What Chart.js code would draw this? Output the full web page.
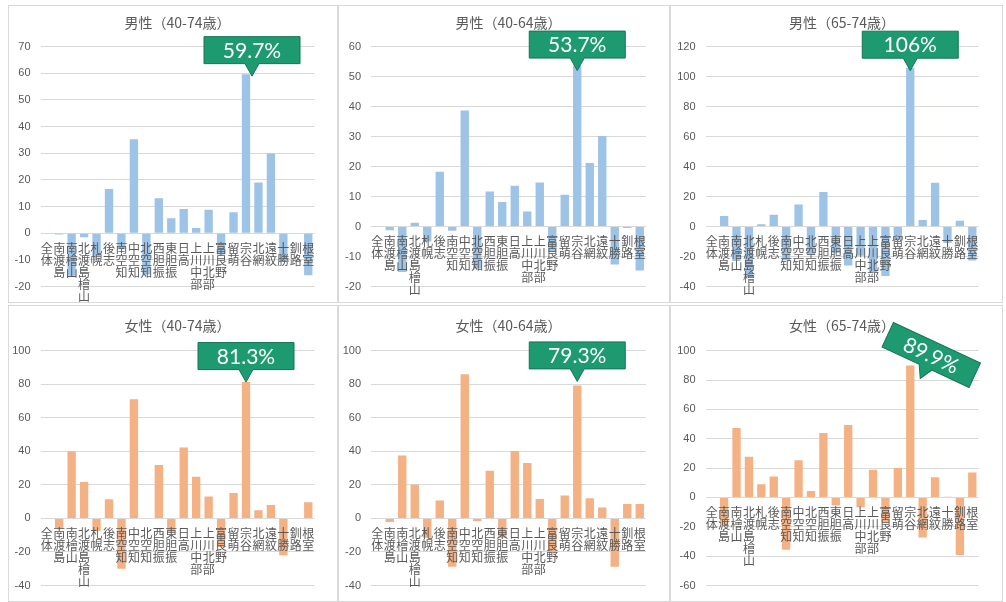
<!DOCTYPE html>
<html lang="ja">
<head>
<meta charset="utf-8">
<script src="https://cdn.jsdelivr.net/npm/chart.js@4.4.1/dist/chart.umd.min.js"></script>
<style>
  html, body { margin: 0; padding: 0; background: #fff; }
  body { width: 1006px; height: 602px; position: relative; overflow: hidden; }
  .panel { position: absolute; border: 1px solid #d9d9d9; box-sizing: border-box; background: #fff; }
  .panel canvas { position: absolute; left: 0; top: 0; }
</style>
</head>
<body>
<div class="panel" style="left:8px;top:5px;width:330px;height:298px"><canvas id="c1" width="328" height="296"></canvas></div>
<div class="panel" style="left:338px;top:5px;width:332px;height:298px"><canvas id="c2" width="330" height="296"></canvas></div>
<div class="panel" style="left:670px;top:5px;width:333px;height:298px"><canvas id="c3" width="331" height="296"></canvas></div>
<div class="panel" style="left:8px;top:305px;width:330px;height:297px"><canvas id="c4" width="328" height="295"></canvas></div>
<div class="panel" style="left:338px;top:305px;width:332px;height:297px"><canvas id="c5" width="330" height="295"></canvas></div>
<div class="panel" style="left:670px;top:305px;width:333px;height:297px"><canvas id="c6" width="331" height="295"></canvas></div>
<script>
// regions (x axis)
const categories = ['全体', '南渡島', '南檜山', '北渡島檜山', '札幌', '後志', '南空知', '中空知', '北空知', '西胆振',
    '東胆振', '日高', '上川中部', '上川北部', '富良野', '留萌', '宗谷', '北網', '遠紋', '十勝', '釧路', '根室'];

// values
const male4074 = [0, -0.5, -16, -1.5, -9, 16.6, -6, 35.3, -15.5, 13.1, 5.6, 9.1, 2, 8.8, -8, 7.9, 59.7, 19, 29.9, -10.5, 0, -15.8];
const male4064 = [0, -1.2, -15.2, 1.3, -5, 18.3, -1.4, 38.7, -14, 11.7, 8.2, 13.6, 5, 14.7, -8.5, 10.6, 53.7, 21.2, 30.2, -12.7, -0.5, -14.7];
const male6574 = [0, 7.1, -23, -34, 1.5, 7.8, -22.5, 14.7, -19, 23.1, -17.5, -26, -19.5, -30.5, -33, -9, 106, 4.3, 29.2, -11, 3.9, -22.7];
const female4074 = [0, -6, 40, 21.7, -7.5, 11.4, -30, 71, 0, 31.8, -8, 42.3, 24.8, 13.1, -17, 15.2, 81.3, 4.8, 8, -22, 0, 9.7];
const female4064 = [0, -2.1, 37.5, 20, -11.5, 10.7, -28.8, 85.9, -1.7, 28.4, -11.5, 40.2, 33, 11.6, -20, 13.7, 79.3, 12, 6.5, -28.8, 8.6, 8.6];
const female6574 = [0, -19, 47.4, 27.7, 9, 14.2, -35.6, 25.3, 4.4, 44, -5.5, 49.3, -6.6, 18.8, -17, 20.1, 89.9, -27.3, 13.8, 0.5, -39.3, 17];

const titles = ['男性（40-74歳）', '男性（40-64歳）', '男性（65-74歳）', '女性（40-74歳）', '女性（40-64歳）', '女性（65-74歳）'];
const calloutTexts = ['59.7%', '53.7%', '106%', '81.3%', '79.3%', '89.9%'];
const yMin = [-20, -20, -40, -40, -40, -60];
const yMax = [70, 60, 120, 100, 100, 100];
const yStep = [10, 10, 20, 20, 20, 20];

const maleColor = '#9DC3E6';
const femaleColor = '#F4B183';
const textGray = '#595959';

// green box with a pointer, pointing at the 宗谷 bar
const calloutPlugin = {
    id: 'callout',
    afterDatasetsDraw(chart, args, opts) {
        const bar = chart.getDatasetMeta(0).data[opts.index];
        if (!bar) return;
        const ctx = chart.ctx;
        const w = 96, h = 27, ph = 12.5, pw = 7;
        ctx.save();
        ctx.translate(bar.x + opts.dx, bar.y + opts.dy);
        ctx.rotate(opts.angle * Math.PI / 180);
        ctx.beginPath();
        ctx.moveTo(-w / 2, -ph - h);
        ctx.lineTo(w / 2, -ph - h);
        ctx.lineTo(w / 2, -ph);
        ctx.lineTo(pw, -ph);
        ctx.lineTo(0, 0);
        ctx.lineTo(-pw, -ph);
        ctx.lineTo(-w / 2, -ph);
        ctx.closePath();
        ctx.fillStyle = '#1E9A70';
        ctx.fill();
        ctx.strokeStyle = '#167457';
        ctx.lineWidth = 1;
        ctx.stroke();
        ctx.fillStyle = '#fff';
        ctx.font = '21px Lato, "Open Sans", sans-serif';
        ctx.textAlign = 'center';
        ctx.textBaseline = 'middle';
        ctx.fillText(opts.text, 0, -ph - h / 2 + 1);
        ctx.restore();
    }
};

// layout of each panel (plot box inside the canvas)
const panels = [
    { id: 'c1', data: male4074, color: maleColor, yW: 31.5, right: 22.5, bottom: 15.3, tTop: 8.6, tBottom: 15.3, dx: 6, dy: 2, angle: 0 },
    { id: 'c2', data: male4064, color: maleColor, yW: 32, right: 23, bottom: 8.7, tTop: 8.6, tBottom: 15.3, dx: 0, dy: 5, angle: 0 },
    { id: 'c3', data: male6574, color: maleColor, yW: 34.5, right: 23.5, bottom: 8.7, tTop: 8.6, tBottom: 15.3, dx: 0, dy: 3, angle: 0 },
    { id: 'c4', data: female4074, color: femaleColor, yW: 31.5, right: 22.5, bottom: 5, tTop: 11.6, tBottom: 16.3, dx: 0, dy: 0, angle: 0 },
    { id: 'c5', data: female4064, color: femaleColor, yW: 32, right: 23, bottom: 5, tTop: 11.6, tBottom: 16.3, dx: 0, dy: -4, angle: 0 },
    { id: 'c6', data: female6574, color: femaleColor, yW: 34.5, right: 23.5, bottom: 5, tTop: 11.6, tBottom: 16.3, dx: 10, dy: 13, angle: 25 }
];

panels.forEach((p, i) => {
    new Chart(document.getElementById(p.id), {
        type: 'bar',
        data: {
            // one character per line, like the stacked labels in the picture
            labels: categories.map(c => Array.from(c)),
            datasets: [{
                data: p.data,
                backgroundColor: p.color,
                borderWidth: 0,
                barPercentage: 0.67,
                categoryPercentage: 1.0
            }]
        },
        options: {
            responsive: false,
            animation: false,
            layout: { padding: { left: 0, top: 0, right: p.right, bottom: p.bottom } },
            scales: {
                x: {
                    position: { y: 0 },
                    grid: { display: false, drawTicks: false },
                    border: { display: false },
                    ticks: {
                        z: 1,
                        padding: 9,
                        autoSkip: false,
                        maxRotation: 0,
                        minRotation: 0,
                        color: textGray,
                        font: { family: '"Noto Sans CJK JP", sans-serif', size: 12, lineHeight: 1.0 }
                    }
                },
                y: {
                    min: yMin[i],
                    max: yMax[i],
                    afterFit(scale) { scale.width = p.yW; },
                    grid: { color: '#D9D9D9', drawTicks: false, lineWidth: 1 },
                    border: { display: false },
                    ticks: {
                        stepSize: yStep[i],
                        padding: 10,
                        color: textGray,
                        font: { family: '"Liberation Sans", Arial, sans-serif', size: 11, lineHeight: 1.0 }
                    }
                }
            },
            plugins: {
                legend: { display: false },
                tooltip: { enabled: false },
                title: {
                    display: true,
                    text: titles[i],
                    fullSize: false,
                    color: textGray,
                    font: { family: '"Noto Sans CJK JP", sans-serif', size: 14, weight: 'normal', lineHeight: 1.2 },
                    padding: { top: p.tTop, bottom: p.tBottom }
                },
                callout: { index: 16, text: calloutTexts[i], dx: p.dx, dy: p.dy, angle: p.angle }
            }
        },
        plugins: [calloutPlugin]
    });
});
</script>
</body>
</html>
